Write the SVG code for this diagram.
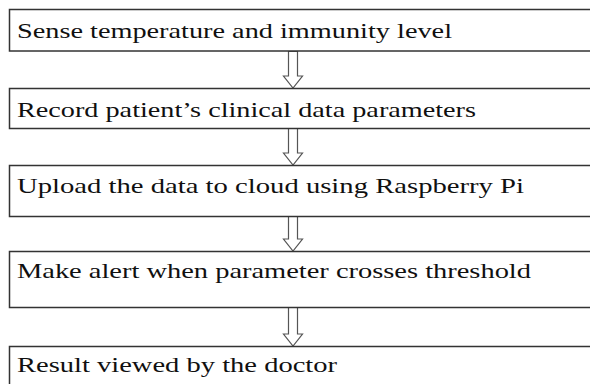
<svg xmlns="http://www.w3.org/2000/svg" width="590" height="384" viewBox="0 0 590 384">
<style>
.box{fill:#fff;stroke:#333;stroke-width:1.5}
.lbl{font-family:"Liberation Serif","Times New Roman",serif;font-size:21px;fill:#101010}
.arr{fill:#fff;stroke:#555;stroke-width:1.2;stroke-linejoin:miter}
</style>
<rect width="590" height="384" fill="#fff"/>
<g id="connectors">
<path class="arr" d="M288.5,51.5 V76 H283.5 L293,88 L302.5,76 H297.5 V51.5 Z"/>
<path class="arr" d="M288.5,128.5 V153 H283.5 L293,165 L302.5,153 H297.5 V128.5 Z"/>
<path class="arr" d="M288.5,216.5 V239 H283.5 L293,251 L302.5,239 H297.5 V216.5 Z"/>
<path class="arr" d="M288.5,307.5 V334 H283.5 L293,346 L302.5,334 H297.5 V307.5 Z"/>
</g>
<g id="n1">
<rect class="box" x="9.5" y="9.5" width="600" height="41.5"/>
<text class="lbl" x="17" y="38" textLength="435" lengthAdjust="spacingAndGlyphs">Sense temperature and immunity level</text>
</g>
<g id="n2">
<rect class="box" x="9.5" y="88.5" width="600" height="40"/>
<text class="lbl" x="17" y="117" textLength="459" lengthAdjust="spacingAndGlyphs">Record patient’s clinical  data parameters</text>
</g>
<g id="n3">
<rect class="box" x="9.5" y="165.5" width="600" height="51"/>
<text class="lbl" x="17" y="193" textLength="507" lengthAdjust="spacingAndGlyphs">Upload the data to cloud using Raspberry Pi</text>
</g>
<g id="n4">
<rect class="box" x="9.5" y="251.5" width="600" height="56"/>
<text class="lbl" x="17" y="278" textLength="514" lengthAdjust="spacingAndGlyphs">Make alert when parameter crosses threshold</text>
</g>
<g id="n5">
<rect class="box" x="9.5" y="346.5" width="600" height="60"/>
<text class="lbl" x="17" y="372" textLength="320" lengthAdjust="spacingAndGlyphs">Result viewed by the doctor</text>
</g>
</svg>
